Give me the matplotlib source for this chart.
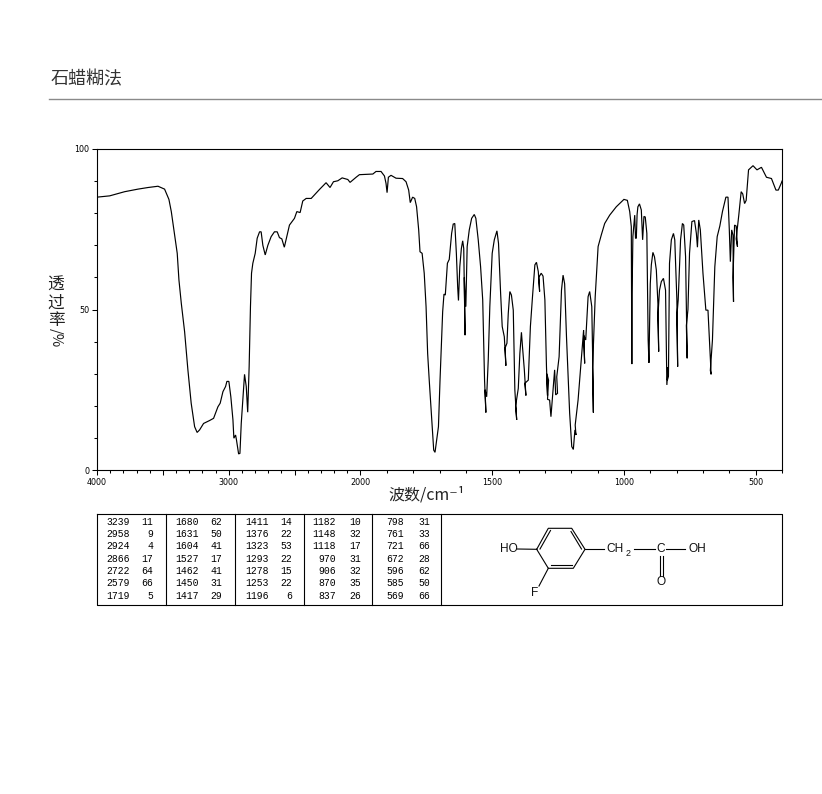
import numpy as np
import matplotlib
matplotlib.use("Agg")
import matplotlib.pyplot as plt
from matplotlib.ticker import FixedLocator, FixedFormatter

CJK = ['Noto Sans CJK SC', 'DejaVu Sans']

wavenumber = [4000,3904,3790,3689,3613,3537,3487,3454,3436,3411,3391,3378,3360,3335,3310,3285,3259,3240,3221,3191,3146,3115,3082,3065,3044,3024,3014,2999,2984,2968,2961,2948,2941,2925,2915,2905,2893,2880,2867,2856,2845,2835,2827,2817,2799,2784,2766,2754,2741,2723,2703,2678,2653,2632,2615,2597,2578,2559,2539,2501,2483,2458,2438,2412,2374,2311,2261,2231,2205,2172,2139,2096,2079,2033,2008,
1953,1941,1922,1909,1903,1899,1894,1884,1865,1840,1827,1817,1811,1802,1794,1787,1779,1774,1766,1758,1751,1745,1739,1730,1722,1717,1704,1698,1688,1683,1678,1670,1663,1654,1648,1642,1636,1631,1628,1623,1617,1612,1608,1603,1606,1600,1595,1587,1578,1568,1562,1553,1544,1536,1529,1524,1527,1521,1515,1509,1500,1492,1482,1476,1468,1462,1454,1448,1451,1444,1439,1433,1427,1420,1414,1407,1411,1401,1395,1389,1385,1378,1372,1376,1363,1355,1347,1338,1332,1325,1320,1323,1314,1307,1300,1294,1290,1293,1286,1290,1282,1277,1269,1263,1259,1252,1255,1246,1237,1231,1225,1218,1206,1198,1192,1186,1182,1185,1174,1162,1153,1149,1153,1145,1136,1130,1122,1118,1116,1119,1109,1098,1086,1073,1054,1029,1000,987,978,972,970,969,966,959,956,953,950,947,941,934,929,924,919,913,908,905,900,896,890,884,877,871,868,871,865,858,850,842,837,833,835,831,827,820,812,807,799,796,799,794,785,778,773,766,760,763,757,751,742,732,725,721,716,710,700,689,681,674,669,672,664,655,646,636,626,613,605,600,596,591,586,584,586,580,574,569,574,564,555,549,542,536,527,510,495,478,459,440,423,414,402,400]

transmittance = [85,85.4,86.7,87.5,88,88.4,87.5,84.3,80.5,73.2,67.5,59.2,51.9,43.1,31.2,20.8,13.5,11.7,12.5,14.5,15.4,16.1,19.7,20.8,24.4,26,27.6,27.6,22.8,15.6,9.9,10.9,9.3,5,5.2,14.5,21.8,29.8,26,18,32.2,50.9,61.3,64.4,67.5,72.2,74.2,74.2,70,67,70,72.7,74.2,74.2,72.4,72,69.4,72.7,76.3,78.4,80.5,80.2,83.8,84.6,84.6,87.4,89.5,88,89.8,90.1,91,90.5,89.6,91.2,92,
92.2,93,93,91.6,89.3,86.4,91.2,91.8,90.9,90.8,89.8,87.2,83.3,85,84.6,82,74.8,68,67.5,61.3,50.9,36.3,28,16.6,6.2,5.5,13.5,28,49.3,54.8,54.5,64.4,65.6,73.7,76.6,76.8,67.5,57,52.8,63.3,69,71.4,69,42,60,50.9,69.6,74.8,78.4,79.6,78.4,71.7,63.3,53,28,17.9,25,22.8,34.3,50.9,67.5,71.7,74.5,70.6,55,44.7,41.5,32.5,38,39.5,48.8,55.6,54.5,49.8,24.9,15.6,20,25.4,36.3,42.9,38.4,31.2,23.2,27,28,44.7,54,63.9,64.7,61.8,55.6,60,61.3,60.4,53,32.2,23.2,30,28,22,21.8,16.6,25,31.2,23.4,23.9,29,35.3,56,60.7,58,41.5,17.7,7.3,6.4,12.5,10.9,14,21.8,34.3,43.6,33.2,42,40.5,54,55.6,50.9,32.2,17.9,32,54,69.6,73.2,76.8,79.4,82,84.3,84,80.5,75.8,33,55,72.7,79.4,72.2,72.2,79.6,82,82.9,81,71.7,79,78.8,73.7,40.5,33.4,58,63.9,67.8,66.4,62.3,51.9,36.9,48,56,58.7,59.7,56,26.5,32,28,29.3,64.4,71.7,73.7,71.7,53,32.2,48,53,71.7,76.8,76.3,66.5,34.8,45,50,67.5,77.4,77.7,73.7,69.4,77.9,74.8,61.3,49.8,49.8,38.4,29.8,31,40.5,63.3,72.7,76,80.5,85,85,74.8,64.9,74.8,73.2,52.4,60,76.3,76,69.6,72,79.4,86.7,86,83,84,93.5,94.8,93.5,94.3,91.2,90.8,87.2,87.2,89.5,90]

x_major = [4000, 3500, 3000, 2500, 2000, 1500, 1000, 500]
x_major_labels = ['4000', '', '3000', '', '2000', '1500', '1000', '500']
x_minor = [w for w in range(400, 4000, 100) if w not in x_major]
y_major = [0, 50, 100]
y_minor = [10, 20, 30, 40, 60, 70, 80, 90]

peak_columns = [
    [(3239,11),(2958,9),(2924,4),(2866,17),(2722,64),(2579,66),(1719,5)],
    [(1680,62),(1631,50),(1604,41),(1527,17),(1462,41),(1450,31),(1417,29)],
    [(1411,14),(1376,22),(1323,53),(1293,22),(1278,15),(1253,22),(1196,6)],
    [(1182,10),(1148,32),(1118,17),(970,31),(906,32),(870,35),(837,26)],
    [(798,31),(761,33),(721,66),(672,28),(596,62),(585,50),(569,66)],
]

W, H = 822, 794
fig = plt.figure(figsize=(W/100, H/100), dpi=100, facecolor='white')

# page overlay in pixel coordinates
page = fig.add_axes([0, 0, 1, 1])
page.set_xlim(0, W); page.set_ylim(H, 0); page.axis('off')

page.text(51, 79, '石蜡糊法', family=CJK, fontsize=13, color='#333333', ha='left', va='center')
page.plot([49, 822], [99, 99], color='#8a8a8a', lw=1.0)

for ch, y in zip('透过率', [285, 303, 320]):
    page.text(56, y, ch, family=CJK, fontsize=12, color='#222222', ha='center', va='center')
page.text(56, 338, '/%', family=CJK, fontsize=10.5, color='#222222', rotation=-90, ha='center', va='center')
page.text(388, 495, '波数/cm⁻¹', family=CJK, fontsize=11.5, color='#222222', ha='left', va='center')

# spectrum
ax = fig.add_axes([97/W, 1-470/H, 685/W, 321/H])
ax.patch.set_alpha(0)
def fwd(x):
    x = np.asarray(x, dtype=float)
    return np.where(x > 2000, 2000 + (x-2000)/2, x)
def inv(u):
    u = np.asarray(u, dtype=float)
    return np.where(u > 2000, 2000 + (u-2000)*2, u)
ax.set_xscale('function', functions=(fwd, inv))
ax.plot(wavenumber, transmittance, color='black', lw=0.85, solid_joinstyle='miter')
ax.set_xlim(4000, 400)
ax.set_ylim(0, 100)
ax.xaxis.set_major_locator(FixedLocator(x_major))
ax.xaxis.set_major_formatter(FixedFormatter(x_major_labels))
ax.xaxis.set_minor_locator(FixedLocator(x_minor))
ax.xaxis.set_minor_formatter(FixedFormatter([]))
ax.set_yticks(y_major)
ax.set_yticks(y_minor, minor=True)
ax.tick_params(axis='both', which='major', length=3.6, width=0.75, labelsize=5.8, pad=2)
ax.tick_params(axis='both', which='minor', length=2.2, width=0.75)
for s in ax.spines.values():
    s.set_linewidth(0.8)

# peak table frame
LW = 0.8
page.plot([97, 782, 782, 97, 97], [514, 514, 605, 605, 514], color='black', lw=LW)
for x in [166, 234.5, 304, 372, 441]:
    page.plot([x, x], [514, 605], color='black', lw=LW)

rows_y = [522, 534, 546, 558.5, 571, 583, 596]
wn_right = [130, 198.5, 269, 336, 404]
val_right = [153, 222, 292, 361, 430]
for c, col in enumerate(peak_columns):
    for (w, t), y in zip(col, rows_y):
        page.text(wn_right[c], y, str(w), family='Liberation Mono', fontsize=7, ha='right', va='center')
        page.text(val_right[c], y, str(t), family='Liberation Mono', fontsize=7, ha='right', va='center')

# molecule
ring = [(536.7,549.3),(548.3,528.3),(571.7,528.3),(585,549.3),(573.3,568.3),(548.3,568.3),(536.7,549.3)]
page.plot(*zip(*ring), color='black', lw=0.8)
def seg(a, b, lw=0.8):
    page.plot([a[0], b[0]], [a[1], b[1]], color='black', lw=lw)
seg((540,549), (550.5,530.5))
seg((571,531.5), (581.5,549))
seg((550.5,565), (571.5,565))
seg((517,549), (536.7,549.3))
seg((585,549), (604,549))
seg((634,549), (655,549))
seg((666,549), (685,549))
seg((548.3,568.3), (539,586))
seg((659.5,556), (659.5,576))
seg((662.5,556), (662.5,576))
def lab(x, y, s, fs=8.6):
    page.text(x, y, s, family='Liberation Sans', fontsize=fs, ha='center', va='center', color='#111111')
lab(509, 549, 'HO')
lab(534.5, 593, 'F')
lab(615, 549, 'CH')
lab(628, 553, '2', 6.5)
lab(661, 549, 'C')
lab(697, 549, 'OH')
lab(661, 582, 'O')

fig.savefig('out.png', dpi=100, facecolor='white')
